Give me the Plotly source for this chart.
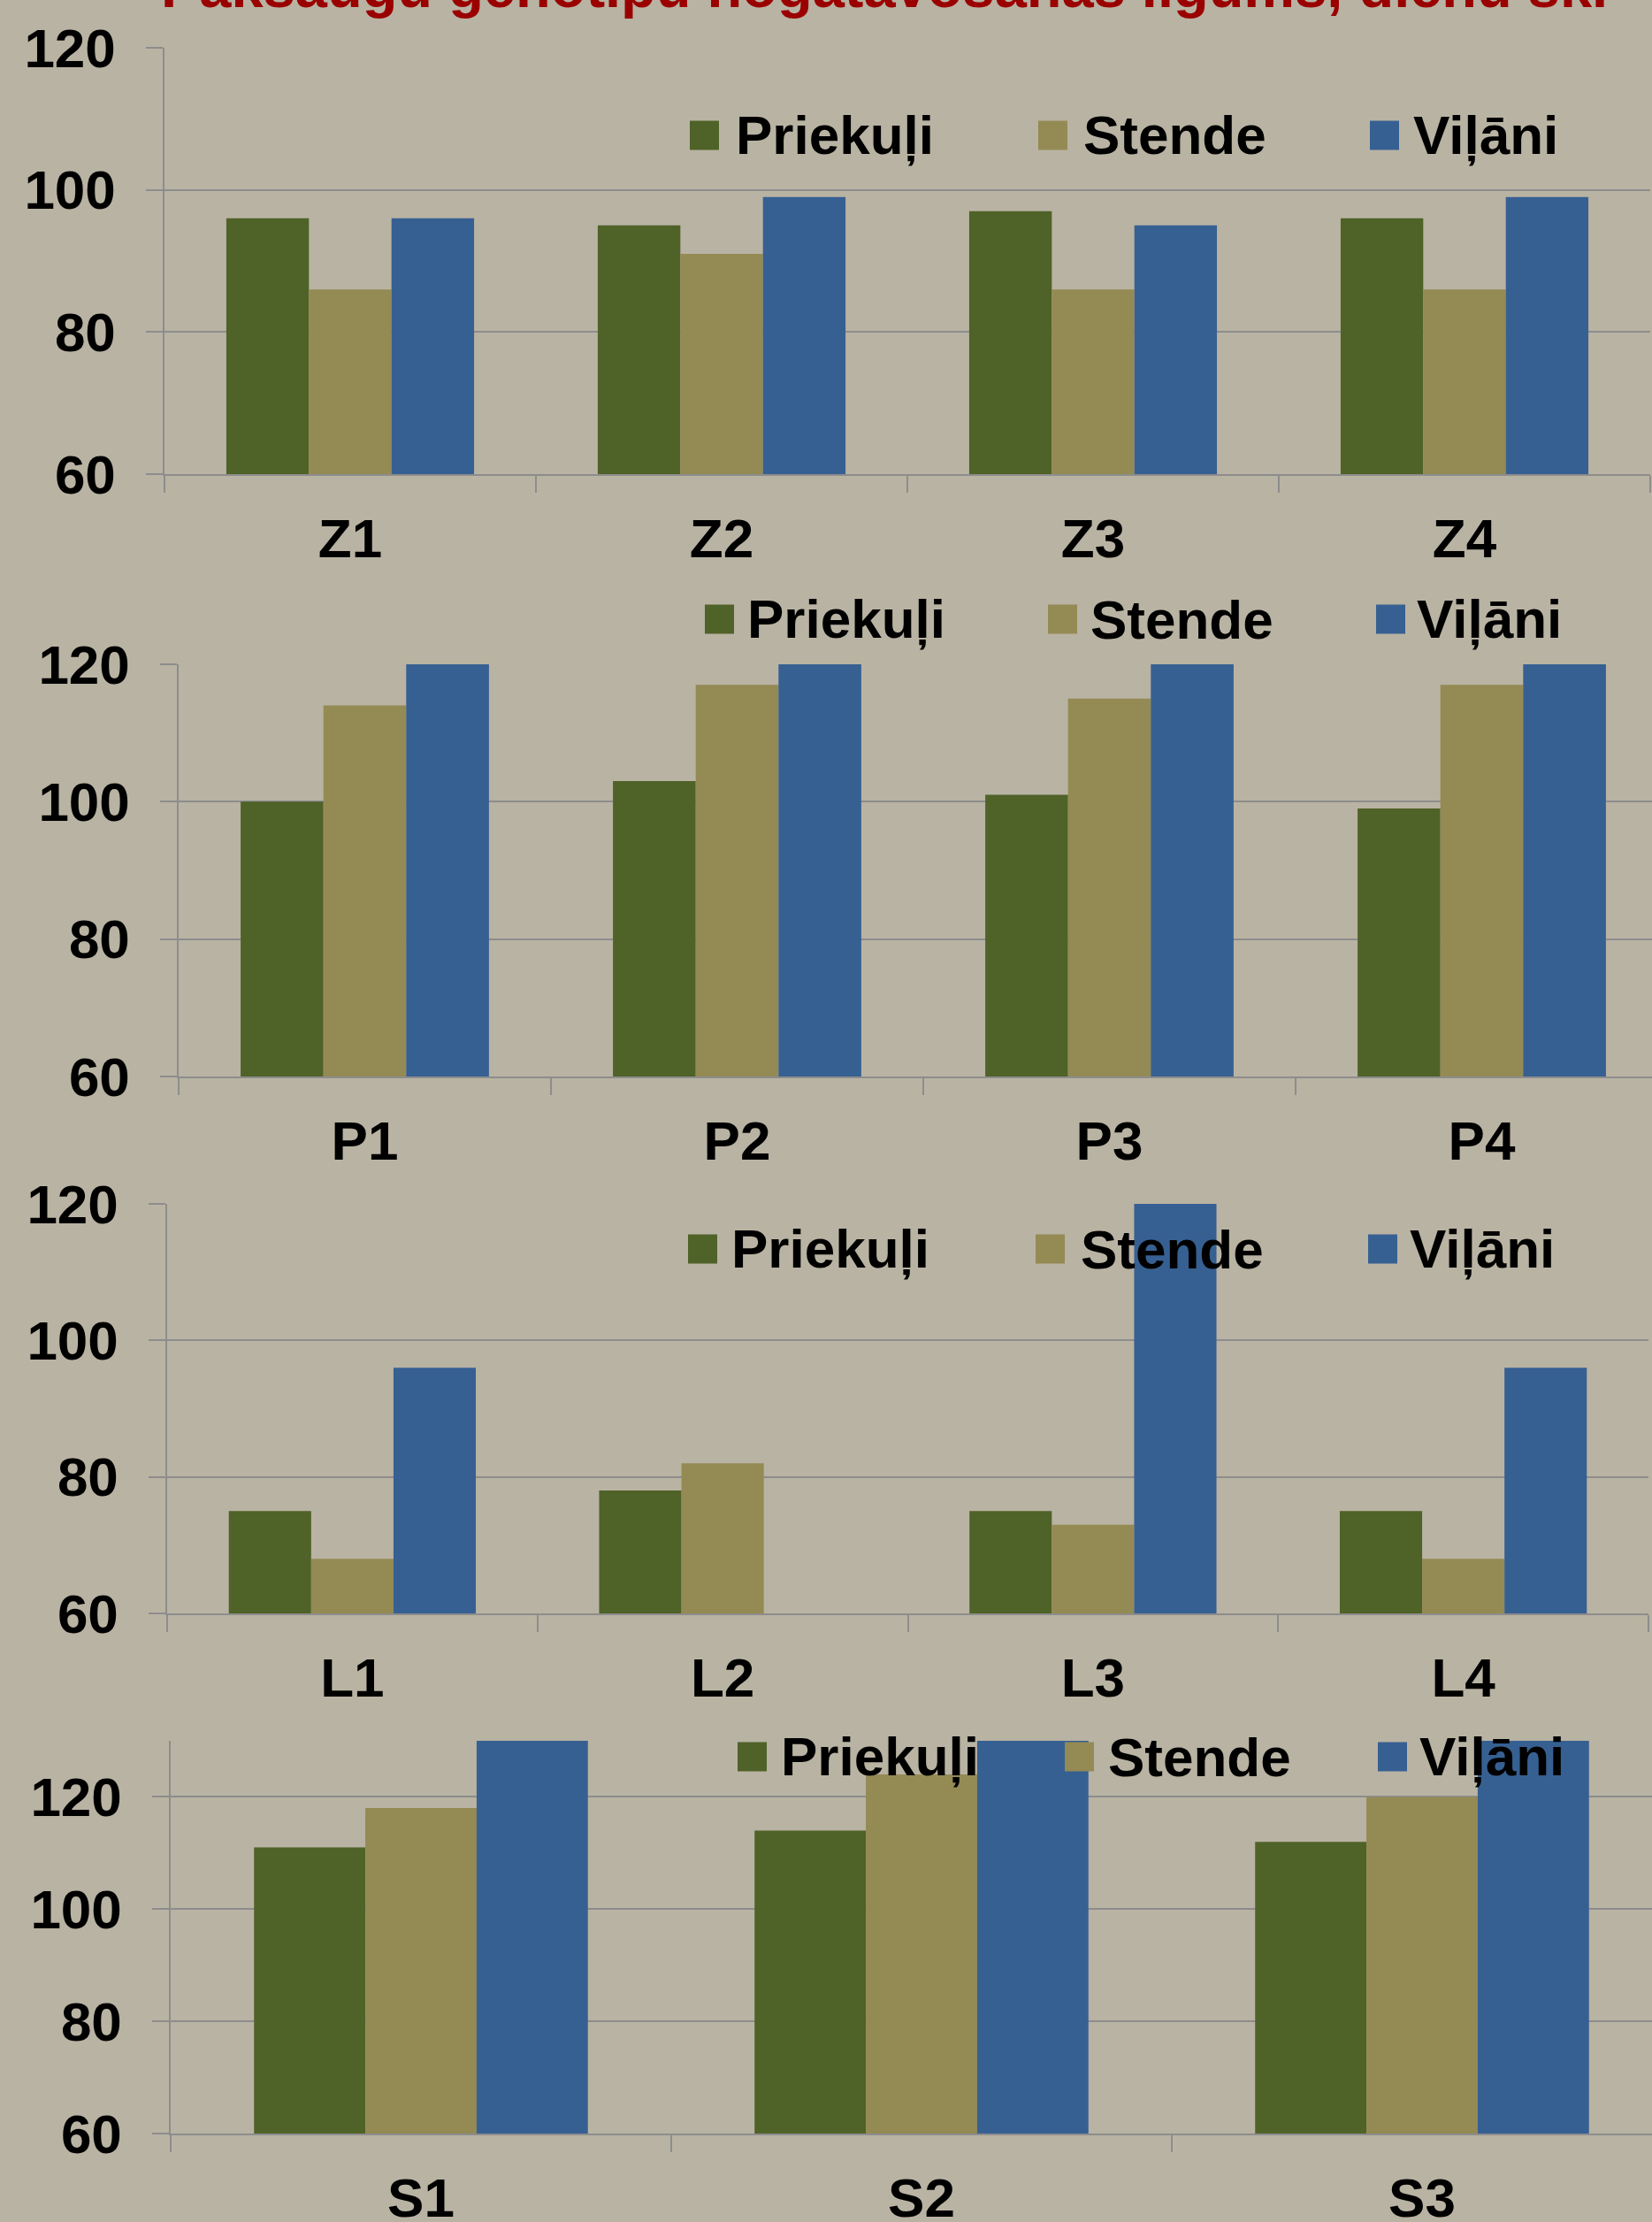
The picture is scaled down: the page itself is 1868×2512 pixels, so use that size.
import plotly.graph_objects as go

# ---------------- data ----------------
series = ["Priekuļi", "Stende", "Viļāni"]
title_text = "Pākšaugu genotipu nogatavošanās ilgums, dienu sk."

z_cats = ["Z1", "Z2", "Z3", "Z4"]
z_priekuli = [96, 95, 97, 96]
z_stende = [86, 91, 86, 86]
z_vilani = [96, 99, 95, 99]

p_cats = ["P1", "P2", "P3", "P4"]
p_priekuli = [100, 103, 101, 99]
p_stende = [114, 117, 115, 117]
p_vilani = [126, 127, 126, 126]

l_cats = ["L1", "L2", "L3", "L4"]
l_priekuli = [75, 78, 75, 75]
l_stende = [68, 82, 73, 68]
l_vilani = [96, 0, 122, 96]

s_cats = ["S1", "S2", "S3"]
s_priekuli = [111, 114, 112]
s_stende = [118, 124, 120]
s_vilani = [134, 133, 135]

y_ticks = [60, 80, 100, 120]

# ---------------- style ----------------
W, H = 1868, 2512
BG = "#B9B3A3"
GRID = "#8D8D8D"
COLORS = ["#4F6228", "#948A54", "#376092"]
FONT = "Liberation Sans, Arial, sans-serif"
FS = 62

panels = [
    dict(cats=z_cats, vals=[z_priekuli, z_stende, z_vilani], left=186, right=1866, cw=420, top=54, bottom=536, ymax=120),
    dict(cats=p_cats, vals=[p_priekuli, p_stende, p_vilani], left=202, right=1868, cw=421, top=751, bottom=1217, ymax=120),
    dict(cats=l_cats, vals=[l_priekuli, l_stende, l_vilani], left=189, right=1864, cw=418.75, top=1361, bottom=1824, ymax=120),
    dict(cats=s_cats, vals=[s_priekuli, s_stende, s_vilani], left=193, right=1868, cw=566, top=1968, bottom=2412, ymax=130),
]

legends = [
    dict(yc=153, sq=[780, 1174, 1549], tx=[830, 1223, 1596]),
    dict(yc=700, sq=[797, 1185, 1556], tx=[843, 1231, 1600]),
    dict(yc=1412, sq=[778, 1171, 1547], tx=[825, 1220, 1592]),
    dict(yc=1986, sq=[834, 1204, 1558], tx=[881, 1251, 1603]),
]
SQ = 33

fig = go.Figure()
layout = dict(
    template="none",
    width=W, height=H,
    margin=dict(l=0, r=0, t=0, b=0, pad=0),
    paper_bgcolor=BG, plot_bgcolor=BG,
    showlegend=False,
    barmode="group", bargap=0.333, bargroupgap=0,
    font=dict(family=FONT, size=FS, color="black"),
)

shapes = []
annotations = []

for i, p in enumerate(panels):
    n = i + 1
    xa = "x" if n == 1 else f"x{n}"
    ya = "y" if n == 1 else f"y{n}"
    for k, name in enumerate(series):
        fig.add_trace(go.Bar(
            x=p["cats"], y=p["vals"][k], name=name,
            marker=dict(color=COLORS[k], line=dict(width=0)),
            xaxis=xa, yaxis=ya, showlegend=False,
        ))
    ncat = (p["right"] - p["left"]) / p["cw"]
    xkey = "xaxis" if n == 1 else f"xaxis{n}"
    ykey = "yaxis" if n == 1 else f"yaxis{n}"
    layout[xkey] = dict(
        domain=[p["left"] / W, p["right"] / W],
        anchor=ya,
        range=[-0.5, -0.5 + ncat],
        type="category",
        automargin=False,
        showline=True, linecolor=GRID, linewidth=2,
        ticks="outside", tickson="boundaries", ticklen=19, tickcolor=GRID, tickwidth=1.5,
        showgrid=False, zeroline=False,
        tickfont=dict(family=FONT, size=FS, color="black", weight="bold"),
        ticklabelstandoff=18,
        fixedrange=True,
    )
    layout[ykey] = dict(
        domain=[1 - p["bottom"] / H, 1 - p["top"] / H],
        anchor=xa,
        range=[60, p["ymax"]],
        tickvals=y_ticks,
        automargin=False,
        showline=True, linecolor=GRID, linewidth=1.5,
        ticks="outside", ticklen=19, tickcolor=GRID, tickwidth=2,
        showgrid=True, gridcolor=GRID, gridwidth=2,
        zeroline=False,
        tickfont=dict(family=FONT, size=FS, color="black", weight="bold"),
        ticklabelstandoff=22,
        fixedrange=True,
    )

for lg in legends:
    for k, name in enumerate(series):
        x0 = lg["sq"][k]
        shapes.append(dict(
            type="rect", xref="paper", yref="paper",
            x0=x0 / W, x1=(x0 + SQ) / W,
            y0=1 - (lg["yc"] + SQ / 2) / H, y1=1 - (lg["yc"] - SQ / 2) / H,
            fillcolor=COLORS[k], line=dict(width=0), layer="above",
        ))
        annotations.append(dict(
            text=name, xref="paper", yref="paper",
            x=lg["tx"][k] / W, y=1 - lg["yc"] / H,
            xanchor="left", yanchor="middle", showarrow=False,
            font=dict(family=FONT, size=FS, color="black", weight="bold"),
        ))

# title, cut off at the top edge as in the reference
annotations.append(dict(
    text=title_text, xref="paper", yref="paper",
    x=1000 / W, y=1 + 14 / H, xanchor="center", yanchor="middle",
    showarrow=False,
    font=dict(family=FONT, size=65, color="#9A0000", weight="bold"),
))

layout["shapes"] = shapes
layout["annotations"] = annotations
fig.update_layout(**layout)

post_js = (
    "document.body.style.margin='0';"
    "document.body.style.padding='0';"
    "document.body.style.background='" + BG + "';"
    "document.documentElement.style.overflow='hidden';"
)
fig.write_html("out.html", post_script=post_js, config={"displayModeBar": False})
